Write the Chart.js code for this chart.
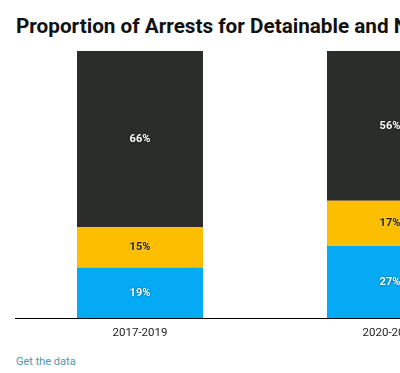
<!DOCTYPE html>
<html>
<head>
<meta charset="utf-8">
<script src="https://cdn.jsdelivr.net/npm/chart.js@4/dist/chart.umd.min.js"></script>
<style>
  html, body { margin: 0; padding: 0; background: #fff; overflow: hidden; width: 400px; height: 373px; }
  #title { position: absolute; left: 16px; top: 14px; font: bold 20.7px Roboto, sans-serif; line-height: 24px; color: #111; white-space: nowrap; }
  #wrap { position: absolute; left: 0; top: 40px; width: 530px; height: 300px; }
  #link { position: absolute; left: 16px; top: 355px; font: 11px Roboto, sans-serif; color: #4b9aa6; white-space: nowrap; }
</style>
</head>
<body>
<div id="title">Proportion of Arrests for Detainable and Non-Detainable Offenses</div>
<div id="wrap"><canvas id="c"></canvas></div>
<div id="link">Get the data</div>
<script>
const categories = ["2017-2019", "2020-2021"];
const seriesNames = ["Detainable (violent)", "Detainable (other)", "Non-detainable"];
const seriesA = [19, 27];
const seriesB = [15, 17];
const seriesC = [66, 56];
const colors = ["#05aaf5", "#fdbe00", "#2b2d2a"];
const labelColors = ["#ffffff", "#222222", "#ffffff"];

const labelPlugin = {
  id: 'segLabels',
  afterDatasetsDraw(chart) {
    const ctx = chart.ctx;
    ctx.save();
    ctx.font = 'bold 11px Roboto, sans-serif';
    ctx.textAlign = 'center';
    ctx.textBaseline = 'middle';
    chart.data.datasets.forEach((ds, di) => {
      const meta = chart.getDatasetMeta(di);
      meta.data.forEach((bar, i) => {
        const v = ds.data[i];
        const y = (bar.y + bar.base) / 2;
        if (labelColors[di] === '#ffffff') {
          ctx.shadowColor = 'rgba(0,0,0,0.6)';
          ctx.shadowBlur = 2;
        } else {
          ctx.shadowColor = 'rgba(255,255,255,0.5)';
          ctx.shadowBlur = 2;
        }
        ctx.fillStyle = labelColors[di];
        ctx.fillText(v + '%', bar.x, y);
      });
    });
    ctx.restore();
  }
};

new Chart(document.getElementById('c'), {
  type: 'bar',
  data: {
    labels: categories,
    datasets: [
      { label: seriesNames[0], data: seriesA, backgroundColor: colors[0] },
      { label: seriesNames[1], data: seriesB, backgroundColor: colors[1] },
      { label: seriesNames[2], data: seriesC, backgroundColor: colors[2] }
    ]
  },
  options: {
    responsive: true,
    maintainAspectRatio: false,
    animation: false,
    layout: { padding: { left: 15, right: 15, top: 11, bottom: 0 } },
    plugins: { legend: { display: false }, tooltip: { enabled: false } },
    datasets: { bar: { barPercentage: 0.504, categoryPercentage: 1.0 } },
    scales: {
      x: {
        stacked: true,
        grid: { display: false },
        border: { display: true, color: '#000', width: 1 },
        ticks: { color: '#222', font: { family: 'Roboto, sans-serif', size: 11.5 }, padding: 0 }
      },
      y: { stacked: true, display: false, min: 0, max: 100 }
    }
  },
  plugins: [labelPlugin]
});
</script>
</body>
</html>
